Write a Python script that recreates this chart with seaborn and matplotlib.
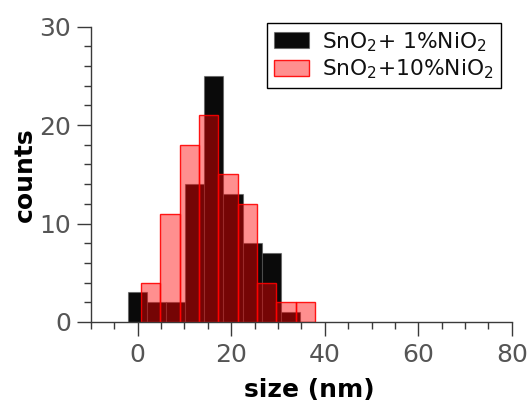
import numpy as np
import pandas as pd
import matplotlib
matplotlib.use("Agg")
import matplotlib.pyplot as plt
import seaborn as sns

# Particle-size histograms (bin edges in nm, counts per bin)
edges_1pct = [-2.14, 1.96, 6.06, 10.16, 14.26, 18.36, 22.46, 26.56, 30.66, 34.76]
counts_1pct = [3, 2, 2, 14, 25, 13, 8, 7, 1]

edges_10pct = [0.72, 4.85, 8.98, 13.11, 17.24, 21.37, 25.50, 29.63, 33.76, 37.89]
counts_10pct = [4, 11, 18, 21, 15, 12, 4, 2, 2]

label_1pct = r"SnO$_2$+ 1%NiO$_2$"
label_10pct = r"SnO$_2$+10%NiO$_2$"

x_ticks = [0, 20, 40, 60, 80]
y_ticks = [0, 10, 20, 30]

sns.set_theme(style="ticks")
plt.rcParams["font.family"] = ["DejaVu Sans"]
plt.rcParams["mathtext.fontset"] = "dejavusans"


def centers(edges):
    e = np.asarray(edges, dtype=float)
    return (e[:-1] + e[1:]) / 2


df1 = pd.DataFrame({"size": centers(edges_1pct), "n": counts_1pct})
df10 = pd.DataFrame({"size": centers(edges_10pct), "n": counts_10pct})

fig = plt.figure(figsize=(5.31, 4.03), dpi=100)
ax = fig.add_axes([0.171, 0.201, 0.793, 0.733])

sns.histplot(data=df1, x="size", weights="n", bins=edges_1pct, ax=ax,
             facecolor=(0.04, 0.04, 0.04, 1.0), edgecolor=(0.35, 0.35, 0.35, 0.6),
             linewidth=0.8, label=label_1pct)
sns.histplot(data=df10, x="size", weights="n", bins=edges_10pct, ax=ax,
             facecolor=(1.0, 0.0, 0.0, 0.44), edgecolor=(1.0, 0.0, 0.0, 0.9),
             linewidth=1.0, label=label_10pct)

ax.set_xlim(-10, 80)
ax.set_ylim(0, 30)
ax.set_xticks(x_ticks)
ax.set_yticks(y_ticks)
ax.set_xticks(np.arange(-10, 81, 5), minor=True)
ax.set_yticks(np.arange(0, 31, 2), minor=True)

spine_col = "#3a3a3a"
for side in ("top", "right"):
    ax.spines[side].set_visible(False)
for side in ("left", "bottom"):
    ax.spines[side].set_color(spine_col)
    ax.spines[side].set_linewidth(1.0)

ax.tick_params(axis="both", which="major", length=10, width=1.0, color=spine_col,
               labelsize=18, labelcolor="#555555", direction="out")
ax.tick_params(axis="both", which="minor", length=5, width=1.0, color=spine_col,
               direction="out")
ax.tick_params(axis="x", which="major", pad=5)
ax.tick_params(axis="y", which="major", pad=4)

ax.set_xlabel("size (nm)", fontsize=18, fontweight="bold", color="black")
ax.set_ylabel("counts", fontsize=18, fontweight="bold", color="black")
ax.xaxis.set_label_coords(0.52, -0.19)
ax.yaxis.set_label_coords(-0.128, 0.5)

leg = ax.legend(loc="upper right", bbox_to_anchor=(500.7 / 531, 1 - 23 / 403),
                bbox_transform=fig.transFigure, fontsize=15.7, frameon=True,
                fancybox=False, framealpha=1.0, edgecolor="black",
                handlelength=1.6, handleheight=0.75, handletextpad=0.6,
                borderpad=0.32, labelspacing=0.18, borderaxespad=0)
leg.get_frame().set_linewidth(1.0)
for t in leg.get_texts():
    t.set_color("#111111")

fig.savefig("out.png", dpi=100)
